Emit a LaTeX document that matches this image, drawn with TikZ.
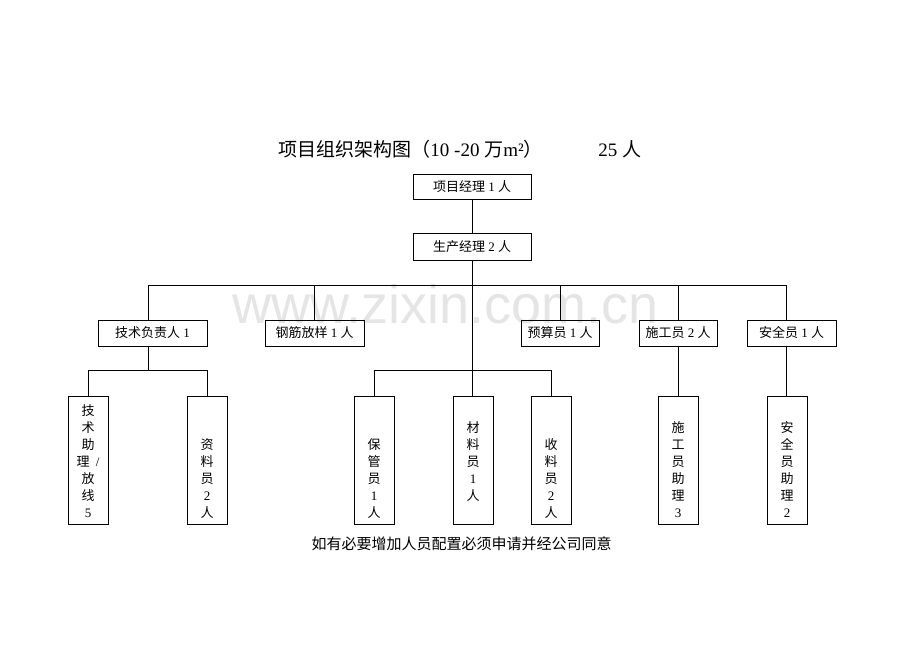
\documentclass[tikz,border=0pt]{standalone}
\usepackage{fontspec}
\setmainfont{Liberation Serif}
\newfontfamily\cj{Noto Sans CJK SC}
\newfontfamily\wmfont{Liberation Sans}
\begin{document}
\begin{tikzpicture}[x=1pt,y=-1pt,
  line width=0.9pt,
  hbox/.style={draw, inner sep=0, font=\fontsize{13}{13}\selectfont},
  vbox/.style={draw, inner sep=0, minimum width=40pt, minimum height=128pt},
  vt/.style={inner sep=0, anchor=base, font=\cj\fontsize{13}{13}\selectfont},
  conn/.style={draw, line width=0.9pt}]
\useasboundingbox (0,0) rectangle (920,651);
% watermark
\node[anchor=base west, inner sep=0, text=black!10, font=\wmfont\fontsize{54}{54}\selectfont] (wm) at (232,323) {www.zixin.com.cn};
% title
\node[anchor=base west, inner sep=0, font=\fontsize{19}{19}\selectfont] (title) at (278,156) {{\cj 项目组织架构图（}10 -20 {\cj 万}m²{\cj ）}};
\node[anchor=base west, inner sep=0, font=\fontsize{19}{19}\selectfont] (total) at (598,156) {25 {\cj 人}};
% level 1-2
\node[hbox, minimum width=118pt, minimum height=25pt] (pm) at (472,186.5) {{\cj 项目经理} 1 {\cj 人}};
\node[hbox, minimum width=118pt, minimum height=27pt] (pd) at (472,246.5) {{\cj 生产经理} 2 {\cj 人}};
% level 3
\node[hbox, minimum width=109pt, minimum height=26pt] (tech) at (152.5,333) {{\cj 技术负责人} 1};
\node[hbox, minimum width=99pt, minimum height=26pt] (steel) at (314.5,333) {{\cj 钢筋放样} 1 {\cj 人}};
\node[hbox, minimum width=78pt, minimum height=26pt] (budget) at (560,333) {{\cj 预算员} 1 {\cj 人}};
\node[hbox, minimum width=78pt, minimum height=26pt] (constr) at (678,333) {{\cj 施工员} 2 {\cj 人}};
\node[hbox, minimum width=89pt, minimum height=26pt] (safety) at (791.5,333) {{\cj 安全员} 1 {\cj 人}};
% level 4 boxes
\node[vbox] (ta) at (88,460) {};
\node[vbox] (zl) at (207,460) {};
\node[vbox] (bg) at (374,460) {};
\node[vbox] (cl) at (473,460) {};
\node[vbox] (sl) at (551,460) {};
\node[vbox] (sg) at (678,460) {};
\node[vbox] (aq) at (787,460) {};
% level 4 texts
\foreach \c [count=\i from 0] in {技,术,助,{理 \rmfamily\ /},放,线,{\rmfamily 5}}
  \node[vt] at (88,415+17*\i) {\c};
\foreach \c [count=\i from 2] in {资,料,员,{\rmfamily 2},人}
  \node[vt] at (207,415+17*\i) {\c};
\foreach \c [count=\i from 2] in {保,管,员,{\rmfamily 1},人}
  \node[vt] at (374,415+17*\i) {\c};
\foreach \c [count=\i from 1] in {材,料,员,{\rmfamily 1},人}
  \node[vt] at (473,415+17*\i) {\c};
\foreach \c [count=\i from 2] in {收,料,员,{\rmfamily 2},人}
  \node[vt] at (551,415+17*\i) {\c};
\foreach \c [count=\i from 1] in {施,工,员,助,理,{\rmfamily 3}}
  \node[vt] at (678,415+17*\i) {\c};
\foreach \c [count=\i from 1] in {安,全,员,助,理,{\rmfamily 2}}
  \node[vt] at (787,415+17*\i) {\c};
% note
\node[anchor=base, inner sep=0, font=\cj\fontsize{15}{15}\selectfont] (note) at (461.5,549.5) {如有必要增加人员配置必须申请并经公司同意};
% coordinates
\coordinate (bl) at (148,285.5);
\coordinate (br) at (786,285.5);
\coordinate (tl) at (88,370.5);
\coordinate (tr) at (207,370.5);
\coordinate (tm) at (148,370.5);
\coordinate (ml) at (374,370.5);
\coordinate (mr) at (551,370.5);
\coordinate (sb) at (314,285.5);
% connectors
\draw[conn] (pm.south) -- (pd.north);
\draw[conn] (pd.south) -- (pd.south |- cl.north);
\draw[conn] (bl |- tech.north) -- (bl) -- (br) -- (br |- safety.north);
\draw[conn] (sb |- steel.north) -- (sb);
\draw[conn] (budget.north) -- (budget.north |- bl);
\draw[conn] (constr.north) -- (constr.north |- bl);
\draw[conn] (bl |- tech.south) -- (tm);
\draw[conn] (tl |- ta.north) -- (tl) -- (tr) -- (tr |- zl.north);
\draw[conn] (ml |- bg.north) -- (ml) -- (mr) -- (mr |- sl.north);
\draw[conn] (constr.south) -- (sg.north);
\draw[conn] (br |- safety.south) -- (br |- aq.north);
\end{tikzpicture}
\end{document}
